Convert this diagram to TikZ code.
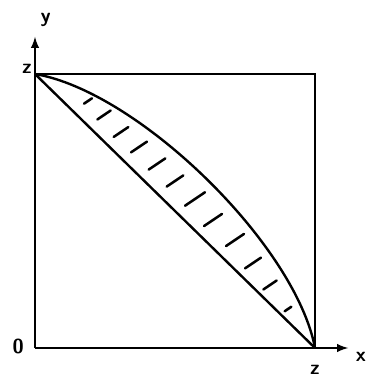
\documentclass[tikz,border=0pt]{standalone}
\usepackage{tikz}

\begin{document}
\begin{tikzpicture}[scale=1.0, line width=1.7pt, every node/.style={font=\sffamily\bfseries\Large, inner sep=1pt}, hatch/.style={line width=1.8pt, line cap=round}]
\useasboundingbox (-0.875,-0.775) rectangle (8.375,8.7);
\coordinate (o) at (0,0);
\coordinate (tl) at (0,6.85);
\coordinate (tr) at (7,6.85);
\coordinate (br) at (7,0);
\coordinate (ytip) at (0,7.78);
\coordinate (xtip) at (7.83,0);
\node (lo) at (-0.42,0.05) {0};
\node (ly) at (0.27,8.2) {y};
\node (lx) at (8.15,-0.22) {x};
\node (lzt) at (-0.2,6.97) {z};
\node (lzb) at (7.0,-0.55) {z};

\draw[-latex] (o)--(ytip);
\draw[-latex] (o)--(xtip);
\draw (tl)--(tr)--(br);
\draw (tl)--(br);
\draw (tl) .. controls (2.59,6.41) and (6.51,2.58) .. (br);
\foreach \x/\y/\l in {1.325/6.175/0.12, 1.725/5.825/0.2, 2.15/5.4/0.22, 2.6/5.025/0.24, 3.05/4.6/0.25, 3.5/4.175/0.25, 4.0/3.725/0.3, 4.45/3.2/0.27, 5.0/2.7/0.27, 5.45/2.125/0.24, 5.875/1.575/0.2, 6.325/0.975/0.1}
  \draw[hatch] (\x,\y) ++(214:\l) -- ++(34:2*\l);
\end{tikzpicture}
\end{document}
